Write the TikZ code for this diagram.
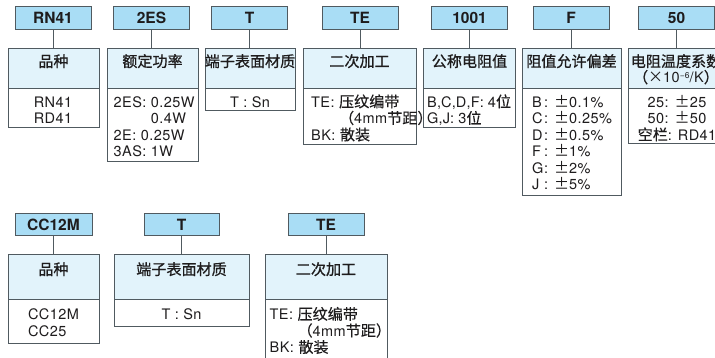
\documentclass[tikz,border=0pt]{standalone}
\usepackage{fontspec}
\setmainfont{TeX Gyre Heros}
\newfontfamily\bodyfont[LetterSpace=3]{TeX Gyre Heros}
\newfontfamily\tightfont[LetterSpace=1]{TeX Gyre Heros}
\newfontfamily\zhfont[Scale=1.04,FakeBold=0.3]{Noto Sans CJK SC}
\newfontfamily\zhhfont[Scale=1.04,FakeBold=0.9]{Noto Sans CJK SC}
\newfontfamily\jpfont[Scale=1.04]{Noto Sans CJK JP}
\newcommand\zh[1]{{\zhfont #1}}
\newcommand\zhh[1]{{\zhhfont #1}}
\newcommand\pmz{{\jpfont ±}}
\newcommand\st{\rule[-3pt]{0pt}{16.5pt}}
\newcommand\hst{\rule[-2.5pt]{0pt}{16pt}}
\newcommand\lc[1]{\makebox[0.82em][l]{#1}}
\definecolor{labc}{HTML}{A9DDF5}
\definecolor{hdc}{HTML}{E2F3FB}
\definecolor{bordc}{HTML}{505A60}
\definecolor{txtc}{HTML}{1E1C1D}
\begin{document}
\begin{tikzpicture}[x=1pt,y=-1pt,
  lab/.style={draw=bordc, fill=labc, line width=1pt, inner sep=0pt,
    minimum height=23pt, minimum width=76pt, text height=11pt, text depth=0pt,
    font=\fontsize{15.5}{18}\selectfont\bfseries, text=txtc},
  hd/.style={draw=bordc, fill=hdc, line width=1pt, inner sep=0pt},
  bd/.style={draw=bordc, fill=white, line width=1pt, inner sep=0pt},
  ht/.style={inner sep=0pt, anchor=north, align=center,
    font=\fontsize{14.5}{16}\bodyfont, text=txtc},
  bt/.style={inner sep=0pt, align=left,
    font=\fontsize{14.5}{16.5}\bodyfont, text=txtc},
  conn/.style={draw=bordc, line width=1pt}
]
\useasboundingbox (0,0) rectangle (715,358);
\clip (0,0) rectangle (715,358);

% ---------- top row ----------
% column 1
\node[lab] (l1) at (53,18.5) {RN41};
\node[bd, minimum width=91pt, minimum height=39pt] (b1) at (53.5,108.5) {};
\node[hd, minimum width=91pt, minimum height=40pt] (h1) at (53.5,69) {};
\node[ht] (ht1) at (53.5,53.2) {\hst\zhh{品种}};
\node[bt, anchor=north] (bt1) at (53,93.5) {\st RN41\\\st RD41};
\draw[conn] (l1.south) -- (l1.south |- h1.north);

% column 2
\node[lab] (l2) at (151.5,18.5) {2ES};
\node[bd, minimum width=91pt, minimum height=73pt] (b2) at (152.5,125.5) {};
\node[hd, minimum width=91pt, minimum height=40pt] (h2) at (152.5,69) {};
\node[ht] (ht2) at (152.5,53.2) {\hst\zhh{额定功率}};
\node[bt, anchor=north west] (bt2) at (113.5,93.5)
  {\st 2ES: 0.25W\\\st\phantom{2ES: }0.4W\\\st 2E: 0.25W\\\st 3AS: 1W};
\draw[conn] (l2.south) -- (l2.south |- h2.north);

% column 3
\node[lab] (l3) at (249.5,18.5) {T};
\node[bd, minimum width=90pt, minimum height=22pt] (b3) at (250,100) {};
\node[hd, minimum width=90pt, minimum height=40pt] (h3) at (250,69) {};
\node[ht] (ht3) at (250,53.2) {\hst\zhh{端子表面材质}};
\node[bt, anchor=north, align=center] (bt3) at (250,93.5) {\st T : Sn};
\draw[conn] (l3.south) -- (l3.south |- h3.north);

% column 4
\node[lab] (l4) at (360,18.5) {TE};
\node[bd, minimum width=113pt, minimum height=56pt] (b4) at (359.5,117) {};
\node[hd, minimum width=113pt, minimum height=40pt] (h4) at (359.5,69) {};
\node[ht] (ht4) at (359.5,53.2) {\hst\zhh{二次加工}};
\node[bt, anchor=north west] (bt4) at (311,93.5)
  {\st TE: \zh{压纹编带}\\\st\phantom{TE: }\zh{（}4mm\zh{节距）}\\\st BK: \zh{散装}};
\draw[conn] (l4.south) -- (l4.south |- h4.north);

% column 5
\node[lab] (l5) at (469.5,18.5) {1001};
\node[bd, minimum width=92pt, minimum height=39pt] (b5) at (469.5,108.5) {};
\node[hd, minimum width=92pt, minimum height=40pt] (h5) at (469.5,69) {};
\node[ht] (ht5) at (469.5,53.2) {\hst\zhh{公称电阻值}};
\node[bt, anchor=north west, font=\fontsize{14.5}{16.5}\tightfont] (bt5) at (427,93.5)
  {\st B,C,D,F: 4\zh{位}\\\st G,J: 3\zh{位}};
\draw[conn] (l5.south) -- (l5.south |- h5.north);

% column 6
\node[lab] (l6) at (571,18.5) {F};
\node[bd, minimum width=99pt, minimum height=107pt] (b6) at (571.5,142.5) {};
\node[hd, minimum width=99pt, minimum height=40pt] (h6) at (571.5,69) {};
\node[ht] (ht6) at (571.5,53.2) {\hst\zhh{阻值允许偏差}};
\node[bt, anchor=north west] (bt6) at (532,93.5)
  {\st\lc{B}: \pmz0.1\%\\\st\lc{C}: \pmz0.25\%\\\st\lc{D}: \pmz0.5\%\\
   \st\lc{F}: \pmz1\%\\\st\lc{G}: \pmz2\%\\\st\lc{J}: \pmz5\%};
\draw[conn] (l6.south) -- (l6.south |- h6.north);

% column 7
\node[lab] (l7) at (676.5,18.5) {50};
\node[bd, minimum width=98pt, minimum height=55pt] (b7) at (677,116.5) {};
\node[hd, minimum width=98pt, minimum height=40pt] (h7) at (677,69) {};
\node[ht] (ht7) at (676,53.2)
  {\hst\zhh{电阻温度系数}\\\hst\zhh{（}{\jpfont ×}10\raisebox{4.5pt}{\fontsize{8.5}{8.5}\selectfont −6}/K\zhh{）}};
\node[bt, anchor=north, align=center] (bt7) at (677,93.5)
  {\st 25: \pmz25\\\st 50: \pmz50\\\st\zh{空栏}: RD41};
\draw[conn] (l7.south) -- (l7.south |- h7.north);

% ---------- bottom row ----------
% column 1
\node[lab, minimum height=22pt, minimum width=77pt] (m1) at (53.5,225) {CC12M};
\node[bd, minimum width=91pt, minimum height=44pt] (c1) at (53.5,321) {};
\node[hd, minimum width=91pt, minimum height=44pt] (g1) at (53.5,277) {};
\node[ht] (gt1) at (53.5,261.2) {\hst\zhh{品种}};
\node[bt, anchor=north] (ct1) at (53.5,306) {\st CC12M\\\st CC25};
\draw[conn] (m1.south) -- (m1.south |- g1.north);

% column 2
\node[lab, minimum height=22pt, minimum width=75pt] (m2) at (181.5,225) {T};
\node[bd, minimum width=135pt, minimum height=27pt] (c2) at (181.5,312.5) {};
\node[hd, minimum width=135pt, minimum height=44pt] (g2) at (181.5,277) {};
\node[ht] (gt2) at (181.5,261.2) {\hst\zhh{端子表面材质}};
\node[bt, anchor=north, align=center] (ct2) at (181.5,306) {\st T : Sn};
\draw[conn] (m2.south) -- (m2.south |- g2.north);

% column 3
\node[lab, minimum height=22pt, minimum width=76pt] (m3) at (326,225) {TE};
\node[bd, minimum width=122pt, minimum height=63pt] (c3) at (326,330.5) {};
\node[hd, minimum width=122pt, minimum height=44pt] (g3) at (326,277) {};
\node[ht] (gt3) at (326,261.2) {\hst\zhh{二次加工}};
\node[bt, anchor=north west] (ct3) at (269.5,306)
  {\st TE: \zh{压纹编带}\\\st\phantom{TE: }\zh{（}4mm\zh{节距）}\\\st BK: \zh{散装}};
\draw[conn] (m3.south) -- (m3.south |- g3.north);
\end{tikzpicture}
\end{document}
